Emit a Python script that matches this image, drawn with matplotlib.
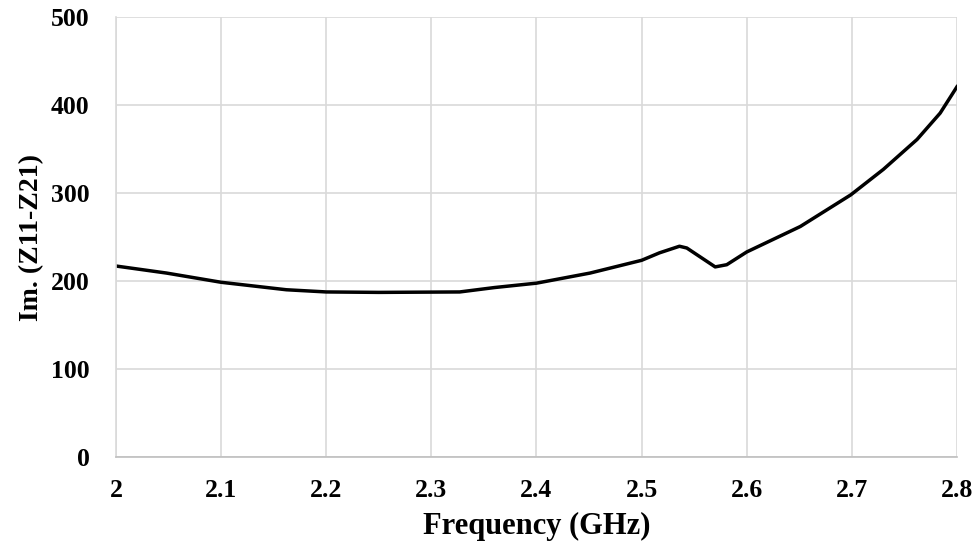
import matplotlib
matplotlib.use("Agg")
import matplotlib.pyplot as plt

freq = [2.000, 2.048, 2.100, 2.162, 2.200, 2.250, 2.327, 2.360, 2.400, 2.451,
        2.500, 2.517, 2.536, 2.543, 2.570, 2.581, 2.600, 2.651, 2.699, 2.730,
        2.762, 2.784, 2.800]
im_z = [217, 209, 198.5, 190, 187.5, 187, 187.5, 192.5, 197.5, 209,
        223.5, 232, 239.5, 237.5, 216, 218.5, 233, 262, 298, 327,
        361, 391, 421]
xticks = [2, 2.1, 2.2, 2.3, 2.4, 2.5, 2.6, 2.7, 2.8]
xtick_labels = ["2", "2.1", "2.2", "2.3", "2.4", "2.5", "2.6", "2.7", "2.8"]
yticks = [0, 100, 200, 300, 400, 500]

plt.rcParams['font.family'] = ['Liberation Serif', 'DejaVu Serif']
fig = plt.figure(figsize=(9.79, 5.5), dpi=100)
ax = fig.add_axes([0.1185, 0.1696, 0.859, 0.7989])
ax.plot(freq, im_z, color='black', lw=2.5, solid_joinstyle='round')
ax.set_xlim(2, 2.8)
ax.set_ylim(0, 500)
ax.set_xticks(xticks)
ax.set_xticklabels(xtick_labels)
ax.set_yticks(yticks)
ax.grid(True, color='#d9d9d9', lw=1.2)
ax.set_axisbelow(True)
for s in ['top', 'right']:
    ax.spines[s].set_visible(False)
ax.spines['left'].set_color('#d9d9d9')
ax.spines['bottom'].set_color('#bfbfbf')
ax.spines['left'].set_linewidth(1.2)
ax.spines['bottom'].set_linewidth(1.2)
ax.tick_params(length=0)
ax.tick_params(axis='x', pad=16)
ax.tick_params(axis='y', pad=19)
for lab in ax.get_xticklabels() + ax.get_yticklabels():
    lab.set_fontweight('bold')
    lab.set_fontsize(18.5)
ax.set_xlabel('Frequency (GHz)', fontsize=22, fontweight='bold', labelpad=7)
ax.set_ylabel('Im. (Z11-Z21)', fontsize=20, fontweight='bold', labelpad=5)
fig.savefig('out.png', dpi=100)
